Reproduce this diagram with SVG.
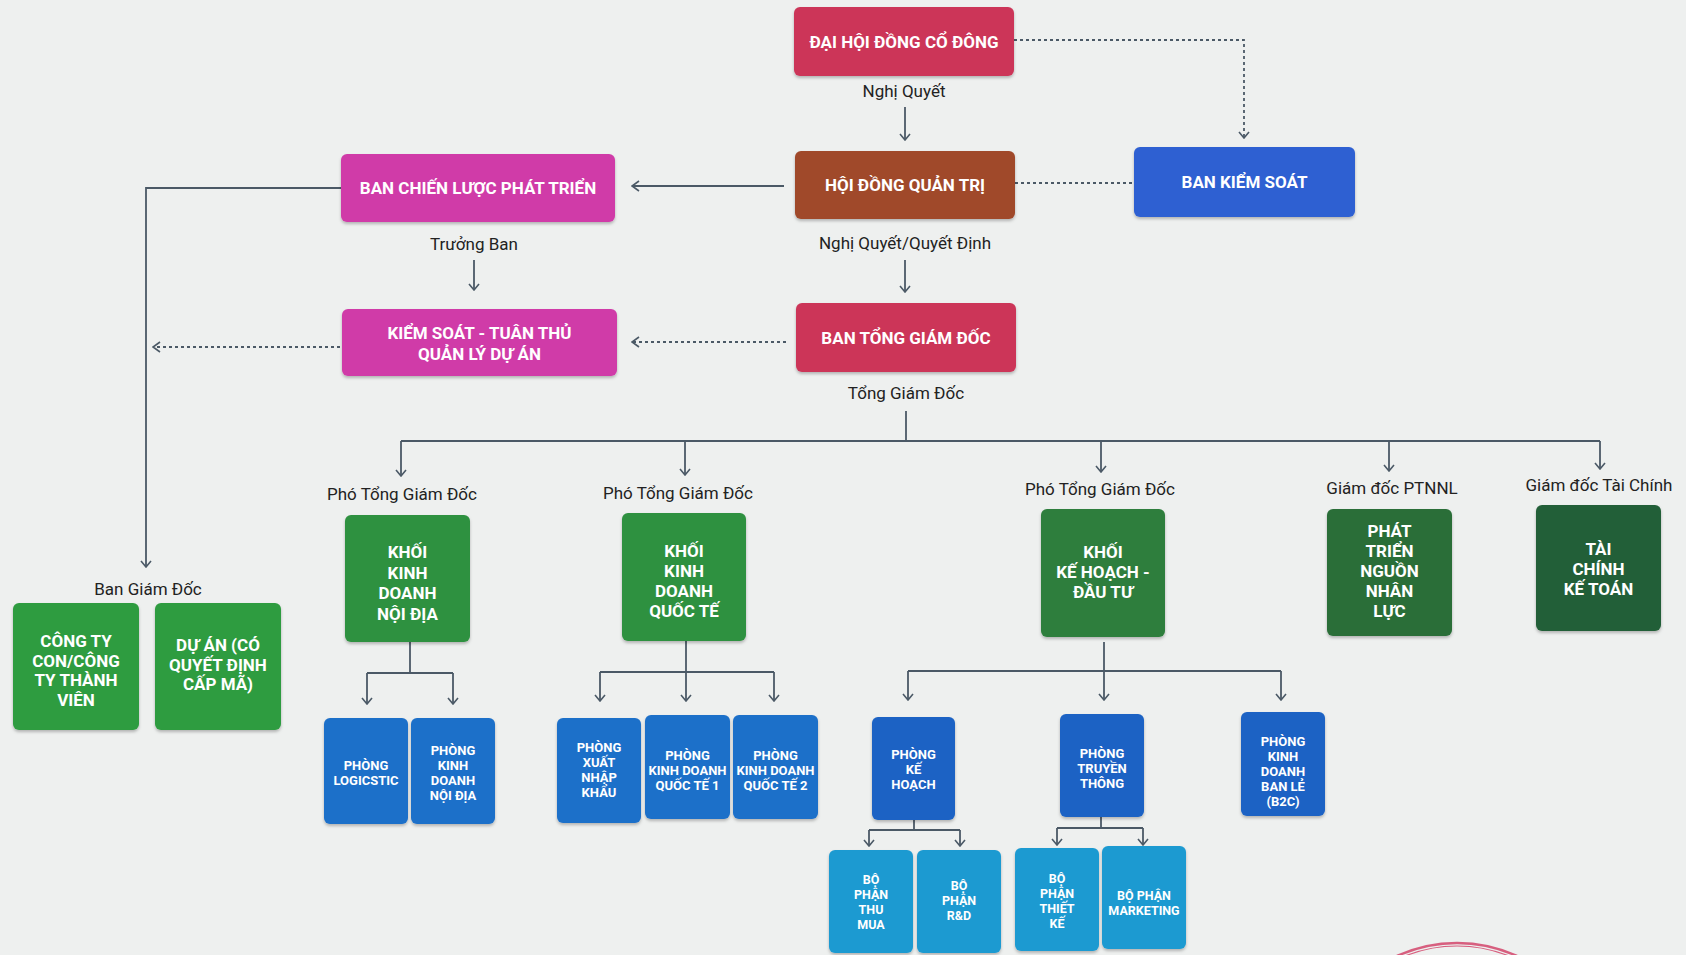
<svg xmlns="http://www.w3.org/2000/svg" width="1686" height="955" viewBox="0 0 1686 955">
<defs>
<filter id="sh" x="-10%" y="-10%" width="120%" height="125%">
<feDropShadow dx="0" dy="2" stdDeviation="1.5" flood-color="#000" flood-opacity="0.25"/>
</filter>
<marker id="arh" viewBox="0 0 12 12" refX="11" refY="6" markerWidth="12" markerHeight="12" markerUnits="userSpaceOnUse" orient="auto">
<path d="M4,1 L11,6 L4,11" fill="none" stroke="#4b5966" stroke-width="1.6"/>
</marker>
<marker id="ard" viewBox="0 0 12 12" refX="6" refY="11" markerWidth="12" markerHeight="12" markerUnits="userSpaceOnUse" orient="0">
<path d="M1,5 L6,11 L11,5" fill="none" stroke="#4b5966" stroke-width="1.6"/>
</marker>
</defs>
<style>
.bx{filter:url(#sh)}
.t{font-family:Roboto,"Liberation Sans",sans-serif;font-weight:700;fill:#fff;text-anchor:middle;dominant-baseline:central}
.t16{font-size:17px}
.t12{font-size:13px}
.t11{font-size:12.5px}
.lb{font-family:Roboto,"Liberation Sans",sans-serif;font-size:17px;fill:#222;text-anchor:middle;dominant-baseline:central}
.ln{fill:none;stroke:#4b5966;stroke-width:1.8}
.dt{fill:none;stroke:#4b5966;stroke-width:1.8;stroke-dasharray:3 3}
.crim{fill:#cc3659}
.brown{fill:#a0482b}
.bks{fill:#2e60d2}
.mag{fill:#d03ba8}
.g1{fill:#2f9141}
.g0{fill:#2f9c40}
.g2{fill:#2d7e3c}
.g3{fill:#296e37}
.g4{fill:#245f37}
.b1{fill:#1e6fc9}
.b2{fill:#1b62c4}
.lbb{fill:#1f9ad1}
</style>
<rect width="1686" height="955" fill="#eef0ef"/>

<g id="connectors">
<line class="ln" x1="905" y1="107" x2="905" y2="140" marker-end="url(#ard)"/>
<polyline class="dt" points="1014,40 1244,40 1244,138" marker-end="url(#ard)"/>
<line class="dt" x1="1015" y1="183" x2="1134" y2="183"/>
<line class="ln" x1="784" y1="186" x2="632" y2="186" marker-end="url(#arh)"/>
<line class="ln" x1="474" y1="260" x2="474" y2="290" marker-end="url(#ard)"/>
<line class="ln" x1="905" y1="260" x2="905" y2="292" marker-end="url(#ard)"/>
<line class="dt" x1="786" y1="342" x2="632" y2="342" marker-end="url(#arh)"/>
<line class="dt" x1="340" y1="347" x2="153" y2="347" marker-end="url(#arh)"/>
<polyline class="ln" points="341,188 146,188 146,567" marker-end="url(#ard)"/>
<line class="ln" x1="906" y1="411" x2="906" y2="441"/>
<line class="ln" x1="401" y1="441" x2="1600" y2="441"/>
<line class="ln" x1="401" y1="441" x2="401" y2="476" marker-end="url(#ard)"/>
<line class="ln" x1="685" y1="441" x2="685" y2="475" marker-end="url(#ard)"/>
<line class="ln" x1="1101" y1="441" x2="1101" y2="472" marker-end="url(#ard)"/>
<line class="ln" x1="1389" y1="441" x2="1389" y2="471" marker-end="url(#ard)"/>
<line class="ln" x1="1600" y1="441" x2="1600" y2="469" marker-end="url(#ard)"/>
<line class="ln" x1="410" y1="642" x2="410" y2="673"/>
<line class="ln" x1="367" y1="673" x2="453" y2="673"/>
<line class="ln" x1="367" y1="673" x2="367" y2="704" marker-end="url(#ard)"/>
<line class="ln" x1="453" y1="673" x2="453" y2="704" marker-end="url(#ard)"/>
<line class="ln" x1="686" y1="641" x2="686" y2="701" marker-end="url(#ard)"/>
<line class="ln" x1="600" y1="672" x2="774" y2="672"/>
<line class="ln" x1="600" y1="672" x2="600" y2="701" marker-end="url(#ard)"/>
<line class="ln" x1="774" y1="672" x2="774" y2="701" marker-end="url(#ard)"/>
<line class="ln" x1="1104" y1="642" x2="1104" y2="700" marker-end="url(#ard)"/>
<line class="ln" x1="908" y1="671" x2="1281" y2="671"/>
<line class="ln" x1="908" y1="671" x2="908" y2="700" marker-end="url(#ard)"/>
<line class="ln" x1="1281" y1="671" x2="1281" y2="700" marker-end="url(#ard)"/>
<line class="ln" x1="914" y1="820" x2="914" y2="830"/>
<line class="ln" x1="869" y1="830" x2="960" y2="830"/>
<line class="ln" x1="869" y1="830" x2="869" y2="846" marker-end="url(#ard)"/>
<line class="ln" x1="960" y1="830" x2="960" y2="846" marker-end="url(#ard)"/>
<line class="ln" x1="1101" y1="817" x2="1101" y2="828"/>
<line class="ln" x1="1057" y1="828" x2="1143" y2="828"/>
<line class="ln" x1="1057" y1="828" x2="1057" y2="845" marker-end="url(#ard)"/>
<line class="ln" x1="1143" y1="828" x2="1143" y2="845" marker-end="url(#ard)"/>
</g>

<g id="labels">
<text class="lb" x="904" y="91">Nghị Quyết</text>
<text class="lb" x="474" y="244">Trưởng Ban</text>
<text class="lb" x="905" y="243">Nghị Quyết/Quyết Định</text>
<text class="lb" x="906" y="393">Tổng Giám Đốc</text>
<text class="lb" x="402" y="494">Phó Tổng Giám Đốc</text>
<text class="lb" x="678" y="493">Phó Tổng Giám Đốc</text>
<text class="lb" x="1100" y="489">Phó Tổng Giám Đốc</text>
<text class="lb" x="1392" y="488">Giám đốc PTNNL</text>
<text class="lb" x="1599" y="485">Giám đốc Tài Chính</text>
<text class="lb" x="148" y="589">Ban Giám Đốc</text>
</g>

<g id="n-dhdcd"><rect class="bx crim" x="794" y="7" width="220" height="69" rx="6"/><text class="t t16" x="904" y="41.5">ĐẠI HỘI ĐỒNG CỔ ĐÔNG</text></g>
<g id="n-hdqt"><rect class="bx brown" x="795" y="151" width="220" height="68" rx="6"/><text class="t t16" x="905" y="185">HỘI ĐỒNG QUẢN TRỊ</text></g>
<g id="n-bks"><rect class="bx bks" x="1134" y="147" width="221" height="70" rx="6"/><text class="t t16" x="1244.5" y="182">BAN KIỂM SOÁT</text></g>
<g id="n-bcl"><rect class="bx mag" x="341" y="154" width="274" height="68" rx="6"/><text class="t t16" x="478" y="188">BAN CHIẾN LƯỢC PHÁT TRIỂN</text></g>
<g id="n-ks"><rect class="bx mag" x="342" y="309" width="275" height="67" rx="6"/><text class="t t16" x="479.5" y="333">KIỂM SOÁT - TUÂN THỦ</text><text class="t t16" x="479.5" y="354">QUẢN LÝ DỰ ÁN</text></g>
<g id="n-btgd"><rect class="bx crim" x="796" y="303" width="220" height="69" rx="6"/><text class="t t16" x="906" y="337.5">BAN TỔNG GIÁM ĐỐC</text></g>

<g id="n-congty"><rect class="bx g0" x="13" y="603" width="126" height="127" rx="6"/>
<text class="t t16"><tspan x="76" y="641">CÔNG TY</tspan><tspan x="76" y="660.5">CON/CÔNG</tspan><tspan x="76" y="680">TY THÀNH</tspan><tspan x="76" y="699.5">VIÊN</tspan></text></g>
<g id="n-duan"><rect class="bx g0" x="155" y="603" width="126" height="127" rx="6"/>
<text class="t t16"><tspan x="218" y="645">DỰ ÁN (CÓ</tspan><tspan x="218" y="664.5">QUYẾT ĐỊNH</tspan><tspan x="218" y="684">CẤP MÃ)</tspan></text></g>

<g id="n-kdnd"><rect class="bx g1" x="345" y="515" width="125" height="127" rx="6"/>
<text class="t t16"><tspan x="407.5" y="552">KHỐI</tspan><tspan x="407.5" y="572.5">KINH</tspan><tspan x="407.5" y="593">DOANH</tspan><tspan x="407.5" y="613.5">NỘI ĐỊA</tspan></text></g>
<g id="n-kdqt"><rect class="bx g1" x="622" y="513" width="124" height="128" rx="6"/>
<text class="t t16"><tspan x="684" y="550.5">KHỐI</tspan><tspan x="684" y="571">KINH</tspan><tspan x="684" y="591">DOANH</tspan><tspan x="684" y="611">QUỐC TẾ</tspan></text></g>
<g id="n-khdt"><rect class="bx g2" x="1041" y="509" width="124" height="128" rx="6"/>
<text class="t t16"><tspan x="1103" y="552">KHỐI</tspan><tspan x="1103" y="572">KẾ HOẠCH -</tspan><tspan x="1103" y="591.5">ĐẦU TƯ</tspan></text></g>
<g id="n-ptnnl"><rect class="bx g3" x="1327" y="509" width="125" height="127" rx="6"/>
<text class="t t16"><tspan x="1389.5" y="530.5">PHÁT</tspan><tspan x="1389.5" y="550.5">TRIỂN</tspan><tspan x="1389.5" y="570.5">NGUỒN</tspan><tspan x="1389.5" y="590.5">NHÂN</tspan><tspan x="1389.5" y="610.5">LỰC</tspan></text></g>
<g id="n-tckt"><rect class="bx g4" x="1536" y="505" width="125" height="126" rx="6"/>
<text class="t t16"><tspan x="1598.5" y="548.5">TÀI</tspan><tspan x="1598.5" y="569">CHÍNH</tspan><tspan x="1598.5" y="589">KẾ TOÁN</tspan></text></g>

<g id="n-logistic"><rect class="bx b1" x="324" y="718" width="84" height="106" rx="6"/>
<text class="t t12"><tspan x="366" y="764.5">PHÒNG</tspan><tspan x="366" y="779.5">LOGICSTIC</tspan></text></g>
<g id="n-pkdnd"><rect class="bx b1" x="411" y="718" width="84" height="106" rx="6"/>
<text class="t t12"><tspan x="453" y="749.5">PHÒNG</tspan><tspan x="453" y="764.5">KINH</tspan><tspan x="453" y="779.5">DOANH</tspan><tspan x="453" y="794.5">NỘI ĐỊA</tspan></text></g>
<g id="n-xnk"><rect class="bx b1" x="557" y="718" width="84" height="105" rx="6"/>
<text class="t t12"><tspan x="599" y="747">PHÒNG</tspan><tspan x="599" y="762">XUẤT</tspan><tspan x="599" y="777">NHẬP</tspan><tspan x="599" y="792">KHẨU</tspan></text></g>
<g id="n-qt1"><rect class="bx b1" x="645" y="715" width="85" height="104" rx="6"/>
<text class="t t12"><tspan x="687.5" y="755">PHÒNG</tspan><tspan x="687.5" y="770">KINH DOANH</tspan><tspan x="687.5" y="785">QUỐC TẾ 1</tspan></text></g>
<g id="n-qt2"><rect class="bx b1" x="733" y="715" width="85" height="104" rx="6"/>
<text class="t t12"><tspan x="775.5" y="755">PHÒNG</tspan><tspan x="775.5" y="770">KINH DOANH</tspan><tspan x="775.5" y="785">QUỐC TẾ 2</tspan></text></g>
<g id="n-pkh"><rect class="bx b2" x="872" y="717" width="83" height="103" rx="6"/>
<text class="t t12"><tspan x="913.5" y="754">PHÒNG</tspan><tspan x="913.5" y="769">KẾ</tspan><tspan x="913.5" y="784">HOẠCH</tspan></text></g>
<g id="n-ptt"><rect class="bx b2" x="1060" y="714" width="84" height="103" rx="6"/>
<text class="t t12"><tspan x="1102" y="753">PHÒNG</tspan><tspan x="1102" y="768">TRUYỀN</tspan><tspan x="1102" y="783">THÔNG</tspan></text></g>
<g id="n-b2c"><rect class="bx b2" x="1241" y="712" width="84" height="104" rx="6"/>
<text class="t t12"><tspan x="1283" y="741">PHÒNG</tspan><tspan x="1283" y="756">KINH</tspan><tspan x="1283" y="771">DOANH</tspan><tspan x="1283" y="786">BAN LẺ</tspan><tspan x="1283" y="801">(B2C)</tspan></text></g>

<g id="n-thumua"><rect class="bx lbb" x="829" y="850" width="84" height="103" rx="6"/>
<text class="t t11"><tspan x="871" y="878.5">BỘ</tspan><tspan x="871" y="893.5">PHẬN</tspan><tspan x="871" y="908.5">THU</tspan><tspan x="871" y="923.5">MUA</tspan></text></g>
<g id="n-rd"><rect class="bx lbb" x="917" y="850" width="84" height="103" rx="6"/>
<text class="t t11"><tspan x="959" y="885">BỘ</tspan><tspan x="959" y="900">PHẬN</tspan><tspan x="959" y="915">R&amp;D</tspan></text></g>
<g id="n-thietke"><rect class="bx lbb" x="1015" y="848" width="84" height="103" rx="6"/>
<text class="t t11"><tspan x="1057" y="877.5">BỘ</tspan><tspan x="1057" y="892.5">PHẬN</tspan><tspan x="1057" y="907.5">THIẾT</tspan><tspan x="1057" y="922.5">KẾ</tspan></text></g>
<g id="n-marketing"><rect class="bx lbb" x="1102" y="846" width="84" height="103" rx="6"/>
<text class="t t11"><tspan x="1144" y="894.5">BỘ PHẬN</tspan><tspan x="1144" y="909.5">MARKETING</tspan></text></g>

<g id="stamp" fill="none" stroke="#d2456b" stroke-opacity="0.85">
<path d="M1397,956 A145,145 0 0 1 1517,956" stroke-width="2.5"/>
<path d="M1405,956 A140,140 0 0 1 1509,956" stroke-width="1.2"/>
</g>
</svg>
